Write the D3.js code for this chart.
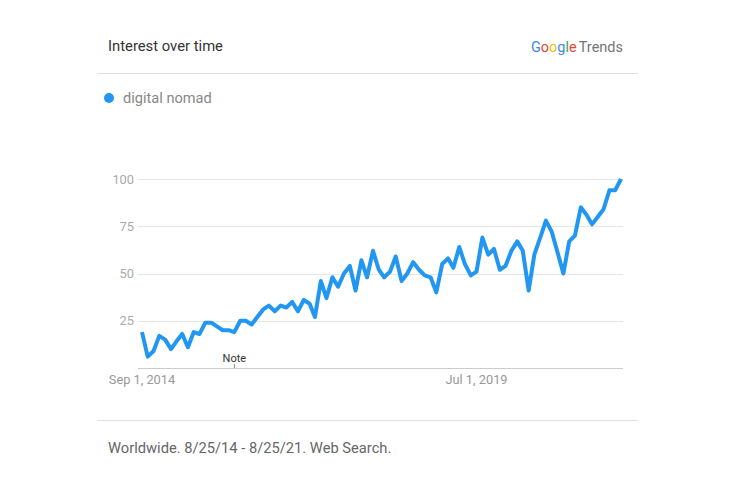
<!DOCTYPE html>
<html>
<head>
<meta charset="utf-8">
<script src="https://cdn.jsdelivr.net/npm/d3@7"></script>
<style>
  body { margin: 0; background: #fff; }
  svg { display: block; font-family: Roboto, "Noto Sans", sans-serif; }
</style>
</head>
<body>
<svg id="chart" width="734" height="501"></svg>
<script>
// monthly interest, Sep 2014 .. Aug 2021
const startMonth = new Date(2014, 8, 1);
const interest = [
  19, 6, 9, 17, 15, 10, 14, 18, 11, 19, 18, 24,
  24, 22, 20, 20, 19, 25, 25, 23, 27, 31, 33, 30,
  33, 32, 35, 30, 36, 34, 27, 46, 37, 48, 43, 50,
  54, 41, 57, 48, 62, 52, 48, 51, 59, 46, 50, 56,
  52, 49, 48, 40, 55, 58, 53, 64, 55, 49, 51, 69,
  60, 63, 52, 54, 62, 67, 62, 41, 60, 69, 78, 72,
  61, 50, 67, 70, 85, 81, 76, 80, 84, 94, 94, 100
];
const months = d3.timeMonth.range(startMonth, d3.timeMonth.offset(startMonth, interest.length));
const yTicks = [25, 50, 75, 100];
const xTickDates = [new Date(2014, 8, 1), new Date(2019, 6, 1)];
const noteDate = new Date(2016, 0, 1);
const seriesName = 'digital nomad';
const googleLetters = [
  { ch: 'G', color: '#4285f4' }, { ch: 'o', color: '#ea4335' },
  { ch: 'o', color: '#fbbc05' }, { ch: 'g', color: '#4285f4' },
  { ch: 'l', color: '#34a853' }, { ch: 'e', color: '#ea4335' }
];

const svg = d3.select('#chart');
const lineColor = '#2196f3';

// header
svg.append('text')
  .attr('x', 108).attr('y', 51)
  .attr('font-size', 14.8).attr('fill', '#333')
  .text('Interest over time');

const logo = svg.append('text')
  .attr('x', 623).attr('y', 52)
  .attr('text-anchor', 'end')
  .attr('font-size', 14.5);
googleLetters.forEach((l) => {
  logo.append('tspan').attr('fill', l.color).text(l.ch);
});
logo.append('tspan').attr('fill', '#757575').attr('dx', 2).text('Trends');

svg.append('line')
  .attr('x1', 97).attr('x2', 638).attr('y1', 73.5).attr('y2', 73.5)
  .attr('stroke', '#e0e0e0');

// legend
svg.append('circle').attr('cx', 109).attr('cy', 98).attr('r', 5).attr('fill', lineColor);
svg.append('text')
  .attr('x', 123).attr('y', 103)
  .attr('font-size', 14.6).attr('fill', '#888')
  .text(seriesName);

// scales
const x = d3.scaleTime()
  .domain([months[0], months[months.length - 1]])
  .range([142, 621]);
const y = d3.scaleLinear().domain([0, 100]).range([368, 179]);

// grid + y labels
const grid = svg.append('g');
grid.selectAll('line')
  .data(yTicks)
  .enter()
  .append('line')
  .attr('x1', 138).attr('x2', 623)
  .attr('y1', (d) => Math.round(y(d)) + 0.5)
  .attr('y2', (d) => Math.round(y(d)) + 0.5)
  .attr('stroke', '#e6e6e6');
grid.selectAll('text')
  .data(yTicks)
  .enter()
  .append('text')
  .attr('x', 134)
  .attr('y', (d) => y(d) + 4.5)
  .attr('text-anchor', 'end')
  .attr('font-size', 12.8)
  .attr('fill', '#aaa')
  .text((d) => d);

// baseline
svg.append('line')
  .attr('x1', 138).attr('x2', 623).attr('y1', 368.5).attr('y2', 368.5)
  .attr('stroke', '#ccc');

// x labels
svg.append('g')
  .selectAll('text')
  .data(xTickDates)
  .enter()
  .append('text')
  .attr('x', (d) => x(d))
  .attr('y', 384)
  .attr('text-anchor', 'middle')
  .attr('font-size', 12.8)
  .attr('fill', '#999')
  .text(d3.timeFormat('%b %-d, %Y'));

// note marker
svg.append('line')
  .attr('x1', x(noteDate)).attr('x2', x(noteDate))
  .attr('y1', 364).attr('y2', 368)
  .attr('stroke', '#888');
svg.append('text')
  .attr('x', x(noteDate)).attr('y', 362)
  .attr('text-anchor', 'middle')
  .attr('font-size', 11).attr('fill', '#333')
  .text('Note');

// series
const line = d3.line()
  .x((d, i) => x(months[i]))
  .y((d) => y(d));
svg.append('path')
  .datum(interest)
  .attr('d', line)
  .attr('fill', 'none')
  .attr('stroke', lineColor)
  .attr('stroke-width', 4)
  .attr('stroke-linejoin', 'round');

// footer
svg.append('line')
  .attr('x1', 97).attr('x2', 638).attr('y1', 420.5).attr('y2', 420.5)
  .attr('stroke', '#e0e0e0');
svg.append('text')
  .attr('x', 108).attr('y', 453)
  .attr('font-size', 14.7).attr('fill', '#666')
  .text('Worldwide. 8/25/14 - 8/25/21. Web Search.');
</script>
</body>
</html>
